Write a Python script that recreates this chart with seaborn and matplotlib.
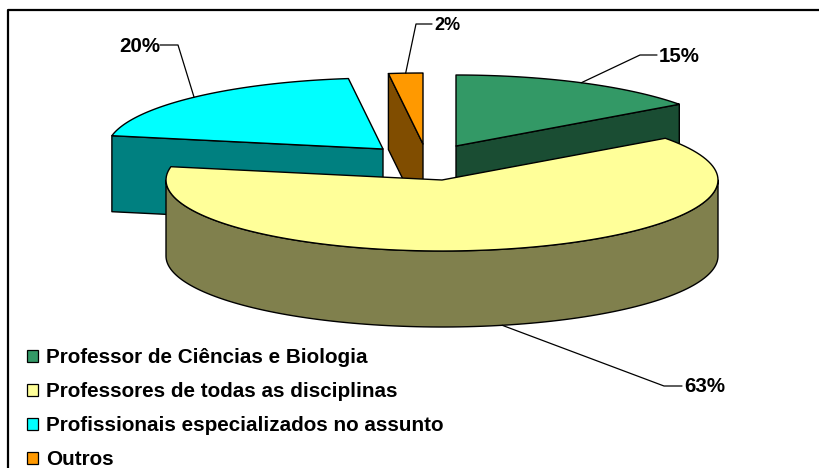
import numpy as np
import pandas as pd
import seaborn as sns
import matplotlib.pyplot as plt
from matplotlib.patches import Patch, Polygon

# data
categorias = ["Professor de Ciências e Biologia",
              "Professores de todas as disciplinas",
              "Profissionais especializados no assunto",
              "Outros"]
valores = [15, 63, 20, 2]
rotulos = ["15%", "63%", "20%", "2%"]

# colours
cor_topo = ["#339966", "#FFFF99", "#00FFFF", "#FF9900"]
cor_lado = ["#1A4D33", "#80804D", "#008080", "#804D00"]

# where each exploded slice has its apex, in pixels
apices = [(456, 146), (442, 180), (383, 149), (423, 144)]
A, B, PROF = 276, 71, 76  # ellipse half axes and pie depth

sns.set_theme(style="white")
plt.rcParams["font.family"] = ["Liberation Sans", "DejaVu Sans"]

df = pd.DataFrame({"cat": categorias, "val": valores, "rot": rotulos})
df["fim"] = df["val"].cumsum() / df["val"].sum() * 2 * np.pi
df["ini"] = df["fim"].shift(1, fill_value=0.0)


def borda(i, t):
    cx, cy = apices[i]
    return cx + A * np.sin(t), cy - B * np.cos(t)


def arco(i, t0, t1):
    t = np.linspace(t0, t1, 120)
    return np.column_stack(borda(i, t))


fig = plt.figure(figsize=(8.2, 4.68), dpi=100)
ax = fig.add_axes([0, 0, 1, 1])
ax.set_xlim(0, 820)
ax.set_ylim(468, 0)
ax.axis("off")

# chart frame, only top and left show up
ax.plot([8, 8, 820], [468, 10, 10], color="black", lw=1.6, solid_capstyle="butt")

ec = dict(edgecolor="black", lw=1.0, joinstyle="round")


def lado_radial(i, t, z):
    p = np.array(borda(i, t))
    c = np.array(apices[i], dtype=float)
    d = np.array([0, PROF])
    ax.add_patch(Polygon([c, p, p + d, c + d], closed=True,
                         facecolor=cor_lado[i], zorder=z, **ec))


def topo(i, z):
    pts = np.vstack([[apices[i]], arco(i, df.ini[i], df.fim[i])])
    ax.add_patch(Polygon(pts, closed=True, facecolor=cor_topo[i], zorder=z, **ec))


# back to front
lado_radial(2, df.ini[2], 2)
topo(2, 3)
lado_radial(3, df.ini[3], 2)
topo(3, 3)
lado_radial(0, df.fim[0], 2)
topo(0, 3)

# big slice: outer wall first, then the top
parede = arco(1, np.pi / 2, 3 * np.pi / 2)
parede = np.vstack([parede, parede[::-1] + [0, PROF]])
ax.add_patch(Polygon(parede, closed=True, facecolor=cor_lado[1], zorder=4, **ec))
topo(1, 5)

# labels with leader lines
quebra = [(640, 55), (664, 386), (178, 45), (416, 24)]
fim_linha = [(657, 55), (682, 386), (160, 45), (432, 24)]
tam = [14.8, 14.8, 14.8, 13]
for i in range(4):
    t = (df.ini[i] + df.fim[i]) / 2
    x, y = borda(i, t)
    if i == 1:
        y += PROF
    ax.plot([x, quebra[i][0], fim_linha[i][0]], [y, quebra[i][1], fim_linha[i][1]],
            color="black", lw=0.9, zorder=6)
    if i == 2:
        ax.text(fim_linha[i][0], fim_linha[i][1] + 1, df.rot[i], ha="right", va="center",
                fontsize=tam[i], fontweight="bold", color="black", zorder=7)
    else:
        ax.text(fim_linha[i][0] + 2, fim_linha[i][1] + 1, df.rot[i], ha="left", va="center",
                fontsize=tam[i], fontweight="bold", color="black", zorder=7)

# legend
alcas = [Patch(facecolor=c, edgecolor="black", lw=0.9) for c in cor_topo]
ax.legend(alcas, categorias, loc="lower left", bbox_to_anchor=(27 / 820, -1 / 468),
          frameon=False, prop={"size": 14.85, "weight": "bold"}, labelcolor="black",
          handlelength=0.53, handleheight=0.53, handletextpad=0.38, labelspacing=0.72,
          borderpad=0, borderaxespad=0)

fig.savefig("out.png", dpi=100)
